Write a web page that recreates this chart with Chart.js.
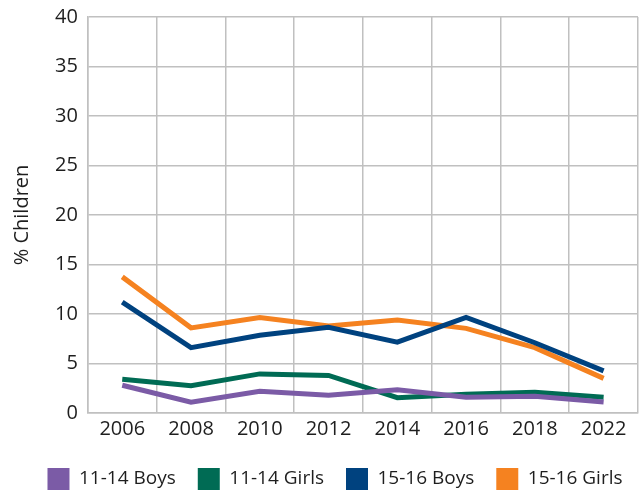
<!DOCTYPE html>
<html lang="en">
<head>
    <meta charset="UTF-8">
    <title>% Children</title>
    <script src="https://cdn.jsdelivr.net/npm/chart.js"></script>
    <style>
        body { margin: 0; background: #fff; }
        #wrap { width: 642px; height: 490px; }
    </style>
</head>
<body>
    <div id="wrap">
        <canvas id="myChart"></canvas>
    </div>
    <script>
        const years = ['2006', '2008', '2010', '2012', '2014', '2016', '2018', '2022'];
        const boys1114 = [2.8, 1.1, 2.2, 1.8, 2.35, 1.6, 1.7, 1.1];
        const girls1114 = [3.4, 2.75, 3.95, 3.8, 1.55, 1.9, 2.1, 1.6];
        const boys1516 = [11.2, 6.6, 7.85, 8.65, 7.15, 9.65, 7.1, 4.25];
        const girls1516 = [13.75, 8.6, 9.65, 8.8, 9.4, 8.55, 6.6, 3.5];

        const family = "'Open Sans', 'Noto Sans', sans-serif";
        const font = { family: family, size: 20 };
        const textColor = '#1e1e1e';
        const gridColor = '#c0c0c0';

        function series(label, data, color) {
            return {
                label: label,
                data: data,
                borderColor: color,
                backgroundColor: color,
                borderWidth: 5,
                pointRadius: 0,
                tension: 0
            };
        }

        // legend in the original sits a bit right of centre
        const legendShift = {
            id: 'legendShift',
            afterLayout(chart) {
                chart.legend.left += 14;
                chart.legend.right += 14;
            }
        };

        new Chart(document.getElementById('myChart'), {
            type: 'line',
            data: {
                labels: years,
                datasets: [
                    series('11-14 Boys', boys1114, '#7b5ba6'),
                    series('11-14 Girls', girls1114, '#006b54'),
                    series('15-16 Boys', boys1516, '#00427f'),
                    series('15-16 Girls', girls1516, '#f58220')
                ]
            },
            plugins: [legendShift],
            options: {
                responsive: true,
                maintainAspectRatio: false,
                animation: false,
                layout: { padding: { left: 4, right: 4, top: 17, bottom: -10 } },
                plugins: {
                    tooltip: { enabled: false },
                    legend: {
                        position: 'bottom',
                        labels: {
                            font: { family: family, size: 19 },
                            color: textColor,
                            boxWidth: 22,
                            boxHeight: 22,
                            padding: 22,
                            generateLabels: (chart) =>
                                Chart.defaults.plugins.legend.labels.generateLabels(chart)
                                    .map(l => Object.assign(l, { lineWidth: 0 }))
                        }
                    }
                },
                scales: {
                    x: {
                        offset: true,
                        grid: { offset: true, color: gridColor, lineWidth: 1.5, drawTicks: false },
                        border: { color: gridColor, width: 1.5 },
                        ticks: { font: font, color: textColor, padding: 4, maxRotation: 0 },
                        afterFit: (scale) => { scale.height += 1; }
                    },
                    y: {
                        min: 0,
                        max: 40,
                        ticks: { stepSize: 5, font: font, color: textColor, padding: 10 },
                        grid: { color: gridColor, lineWidth: 1.5, drawTicks: false },
                        border: { color: gridColor, width: 1.5 },
                        title: {
                            display: true,
                            text: '% Children',
                            font: font,
                            color: textColor,
                            padding: { top: 6, bottom: 11 }
                        },
                        afterFit: (scale) => { scale.paddingTop = 0; }
                    }
                }
            }
        });
    </script>
</body>
</html>
